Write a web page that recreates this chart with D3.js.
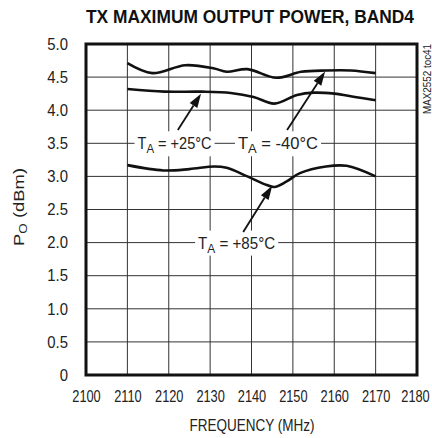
<!DOCTYPE html>
<html><head><meta charset="utf-8">
<script src="https://cdn.jsdelivr.net/npm/d3@7"></script>
<style>
html,body{margin:0;padding:0;background:#fff;}
text{font-family:"Liberation Sans",Arial,Helvetica,sans-serif;fill:#222;}
</style></head>
<body><svg id="c" width="432" height="438"></svg>
<script>
const title = "TX MAXIMUM OUTPUT POWER, BAND4";
const xTicks = [2100,2110,2120,2130,2140,2150,2160,2170,2180];
const xTickLabels = ["2100","2110","2120","2130","2140","2150","2160","2170","2180"];
const yTicks = [0,0.5,1,1.5,2,2.5,3,3.5,4,4.5,5];
const yTickLabels = ["0","0.5","1.0","1.5","2.0","2.5","3.0","3.5","4.0","4.5","5.0"];

const freqM40 = [2110,2116,2124,2131,2134,2139,2146,2152,2158,2164,2170];
const powM40  = [4.71,4.56,4.68,4.63,4.58,4.62,4.49,4.58,4.60,4.60,4.56];
const freqP25 = [2110,2119,2128,2135,2140.5,2145.5,2151,2155,2160,2165,2170];
const powP25  = [4.32,4.28,4.28,4.26,4.20,4.10,4.23,4.265,4.25,4.20,4.15];
const freqP85 = [2110,2118.7,2125,2131,2134,2139,2143.7,2145.5,2148.4,2151.7,2158,2163,2170];
const powP85  = [3.17,3.09,3.11,3.15,3.13,3.00,2.87,2.84,2.92,3.05,3.15,3.16,3.00];

const labels = [
  {sub:"A", text:" = +25°C", fx:2121.4, fy:3.5, w:74, tailF:2122.2, tailP:3.70, tipF:2127.8, tipP:4.25},
  {sub:"A", text:" = -40°C", fx:2146.4, fy:3.5, w:80, tailF:2148.6, tailP:3.70, tipF:2157.8, tipP:4.585},
  {sub:"A", text:" = +85°C", fx:2136.4, fy:2.0, w:77, tailF:2138.0, tailP:2.16, tipF:2145.0, tipP:2.86}
];

const svg = d3.select("#c");
const x = d3.scaleLinear([2100,2180],[86,417]);
const y = d3.scaleLinear([0,5],[375,44]);

function condense(sel, f){ sel.each(function(){ const w=this.getComputedTextLength(); d3.select(this).attr("textLength",w*f).attr("lengthAdjust","spacingAndGlyphs"); }); }

// title
svg.append("text").attr("x",250).attr("y",23).attr("text-anchor","middle")
  .attr("font-size",17.5).attr("font-weight","bold").style("fill","#111")
  .attr("textLength",328).attr("lengthAdjust","spacingAndGlyphs").text(title);

// grid
const g = svg.append("g");
g.selectAll(".vg").data(xTicks.slice(1,-1)).enter().append("line")
  .attr("x1",d=>x(d)).attr("x2",d=>x(d)).attr("y1",y(5)).attr("y2",y(0))
  .attr("stroke","#333").attr("stroke-width",1);
g.selectAll(".hg").data(yTicks.slice(1,-1)).enter().append("line")
  .attr("x1",x(2100)).attr("x2",x(2180)).attr("y1",d=>y(d)).attr("y2",d=>y(d))
  .attr("stroke","#333").attr("stroke-width",1);

// axes labels via d3 axes
const xa = svg.append("g").attr("transform",`translate(0,${y(0)})`)
  .call(d3.axisBottom(x).tickValues(xTicks).tickFormat((d,i)=>xTickLabels[i]).tickSize(0).tickPadding(16));
xa.select(".domain").remove();
xa.selectAll("text").attr("font-size",16).attr("font-family",null).style("fill","#222").attr("transform","scale(0.8,1)");
xa.selectAll("text").filter((d,i,n)=>i===n.length-1).attr("x",-2.5);
const ya = svg.append("g").attr("transform",`translate(${x(2100)},0)`)
  .call(d3.axisLeft(y).tickValues(yTicks).tickFormat((d,i)=>yTickLabels[i]).tickSize(0).tickPadding(18));
ya.select(".domain").remove();
ya.selectAll("text").attr("font-size",16.5).attr("font-family",null).style("fill","#222").call(condense,0.9);

svg.append("text").attr("x",252).attr("y",431).attr("text-anchor","middle").attr("font-size",16)
  .attr("textLength",125).attr("lengthAdjust","spacingAndGlyphs").text("FREQUENCY (MHz)");
const yl = svg.append("text").attr("transform","translate(24,207) rotate(-90)").attr("text-anchor","middle").attr("font-size",15)
  .attr("textLength",78).attr("lengthAdjust","spacingAndGlyphs");
yl.append("tspan").text("P");
yl.append("tspan").attr("font-size",11).attr("dy",3).text("O");
yl.append("tspan").attr("dy",-3).text(" (dBm)");

svg.append("text").attr("transform","translate(431,44) rotate(-90)").attr("text-anchor","end")
  .attr("font-size",11).attr("textLength",70).attr("lengthAdjust","spacingAndGlyphs").text("MAX2552 toc41");

// curves
const line = d3.line().x(d=>x(d[0])).y(d=>y(d[1])).curve(d3.curveCatmullRom.alpha(0.5));
[[freqM40,powM40],[freqP25,powP25],[freqP85,powP85]].forEach(([f,p])=>{
  svg.append("path").datum(f.map((v,i)=>[v,p[i]])).attr("d",line)
    .attr("fill","none").attr("stroke","#111").attr("stroke-width",2.6);
});

// labels
labels.forEach(l=>{
  const t = svg.append("text").attr("x",x(l.fx)).attr("y",y(l.fy)+6).attr("text-anchor","middle").attr("font-size",16.5)
    .attr("textLength",l.w).attr("lengthAdjust","spacingAndGlyphs");
  t.append("tspan").text("T");
  t.append("tspan").attr("font-size",13).attr("dy",4).text(l.sub);
  t.append("tspan").attr("dy",-4).text(l.text);
  const bb = t.node().getBBox();
  svg.insert("rect", function(){return t.node();}).attr("x",bb.x-3).attr("y",y(l.fy)-12).attr("width",bb.width+6).attr("height",25).attr("fill","#fff");
  // arrow
  const x1=x(l.tailF), y1=y(l.tailP), x2=x(l.tipF), y2=y(l.tipP);
  const ang = Math.atan2(y2-y1,x2-x1), hl=14, hw=4.5;
  const bx = x2-hl*Math.cos(ang), by = y2-hl*Math.sin(ang);
  svg.append("line").attr("x1",x1).attr("y1",y1).attr("x2",bx).attr("y2",by).attr("stroke","#111").attr("stroke-width",1.8);
  svg.append("path").attr("d",`M${x2},${y2}L${bx+hw*Math.sin(ang)},${by-hw*Math.cos(ang)}L${bx-hw*Math.sin(ang)},${by+hw*Math.cos(ang)}Z`).attr("fill","#111");
});

// frame
svg.append("rect").attr("x",x(2100)).attr("y",y(5)).attr("width",x(2180)-x(2100)).attr("height",y(0)-y(5))
  .attr("fill","none").attr("stroke","#111").attr("stroke-width",3);
</script></body></html>
